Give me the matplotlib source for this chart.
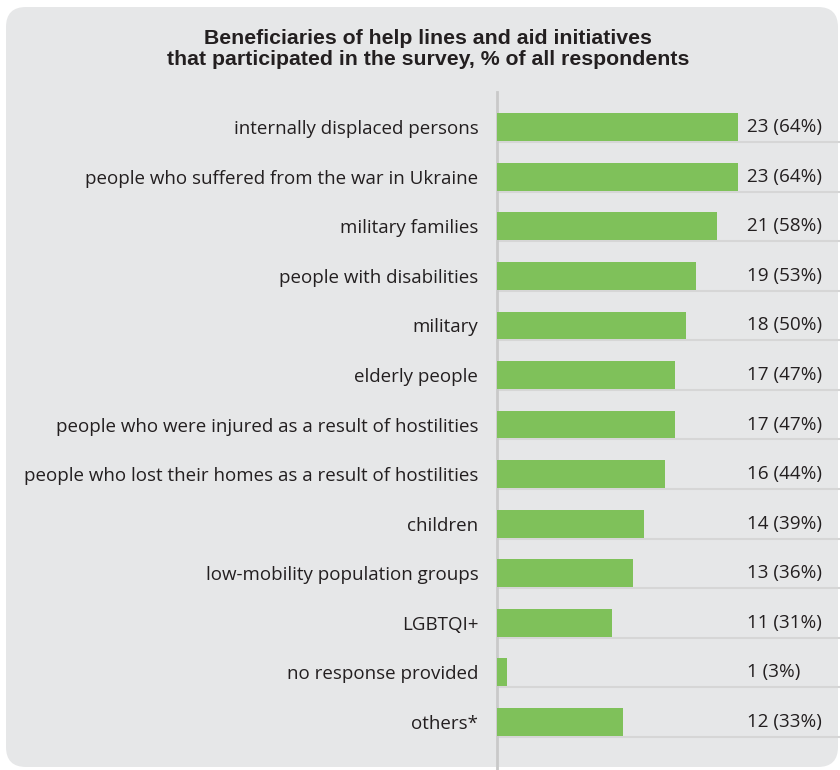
import matplotlib
matplotlib.use("Agg")
import matplotlib.pyplot as plt
from matplotlib.patches import FancyBboxPatch

# chart data
categories = [
    "internally displaced persons",
    "people who suffered from the war in Ukraine",
    "military families",
    "people with disabilities",
    "military",
    "elderly people",
    "people who were injured as a result of hostilities",
    "people who lost their homes as a result of hostilities",
    "children",
    "low-mobility population groups",
    "LGBTQI+",
    "no response provided",
    "others*",
]
counts = [23, 23, 21, 19, 18, 17, 17, 16, 14, 13, 11, 1, 12]
percents = [64, 64, 58, 53, 50, 47, 47, 44, 39, 36, 31, 3, 33]

title = ("Beneficiaries of help lines and aid initiatives\n"
         "that participated in the survey, % of all respondents")

bg = "#e6e7e8"
green = "#7fc15a"
text_col = "#231f20"

fig = plt.figure(figsize=(8.4, 7.7), dpi=100)
fig.patch.set_facecolor("white")

# rounded grey panel
panel = FancyBboxPatch((0.06, 0.03), 8.32, 7.6,
                       boxstyle="round,pad=0,rounding_size=0.2",
                       transform=fig.dpi_scale_trans,
                       facecolor=bg, edgecolor="none", zorder=-5)
fig.patches.append(panel)

fig.text(0.51, 1 - 49 / 770, title, ha="center", va="center", fontsize=15.3,
         fontweight="bold", color=text_col, family="Liberation Sans",
         linespacing=1.12)

ax = fig.add_axes([497 / 840, 0.0, 1 - 497 / 840, (770 - 92) / 770])
ax.set_facecolor("none")

y = list(range(len(categories)))
bar_h = 0.56
ax.barh(y, counts, height=bar_h, color=green, zorder=3)

xmax = 343 / 10.48
for i, (c, p) in enumerate(zip(counts, percents)):
    # faint line under each bar row
    ax.plot([0, xmax], [i + bar_h / 2 + 0.02] * 2, color="#d6d6d6",
            lw=1.5, zorder=2, solid_capstyle="butt")
    ax.text(250 / 10.48, i, f"{c} ({p}%)", ha="left", va="center",
            fontsize=13.6, color=text_col, family="Open Sans")

ax.set_xlim(0, xmax)
ax.set_ylim(12.97, -0.71)
ax.set_yticks(y)
ax.set_yticklabels(categories, fontsize=13.5, color=text_col,
                   family="Open Sans")
ax.tick_params(axis="y", length=0, pad=13.5)
ax.set_xticks([])
for s in ["top", "right", "bottom"]:
    ax.spines[s].set_visible(False)
ax.spines["left"].set_color("#c9c9c9")
ax.spines["left"].set_linewidth(2)

fig.savefig("out.png", dpi=100)
